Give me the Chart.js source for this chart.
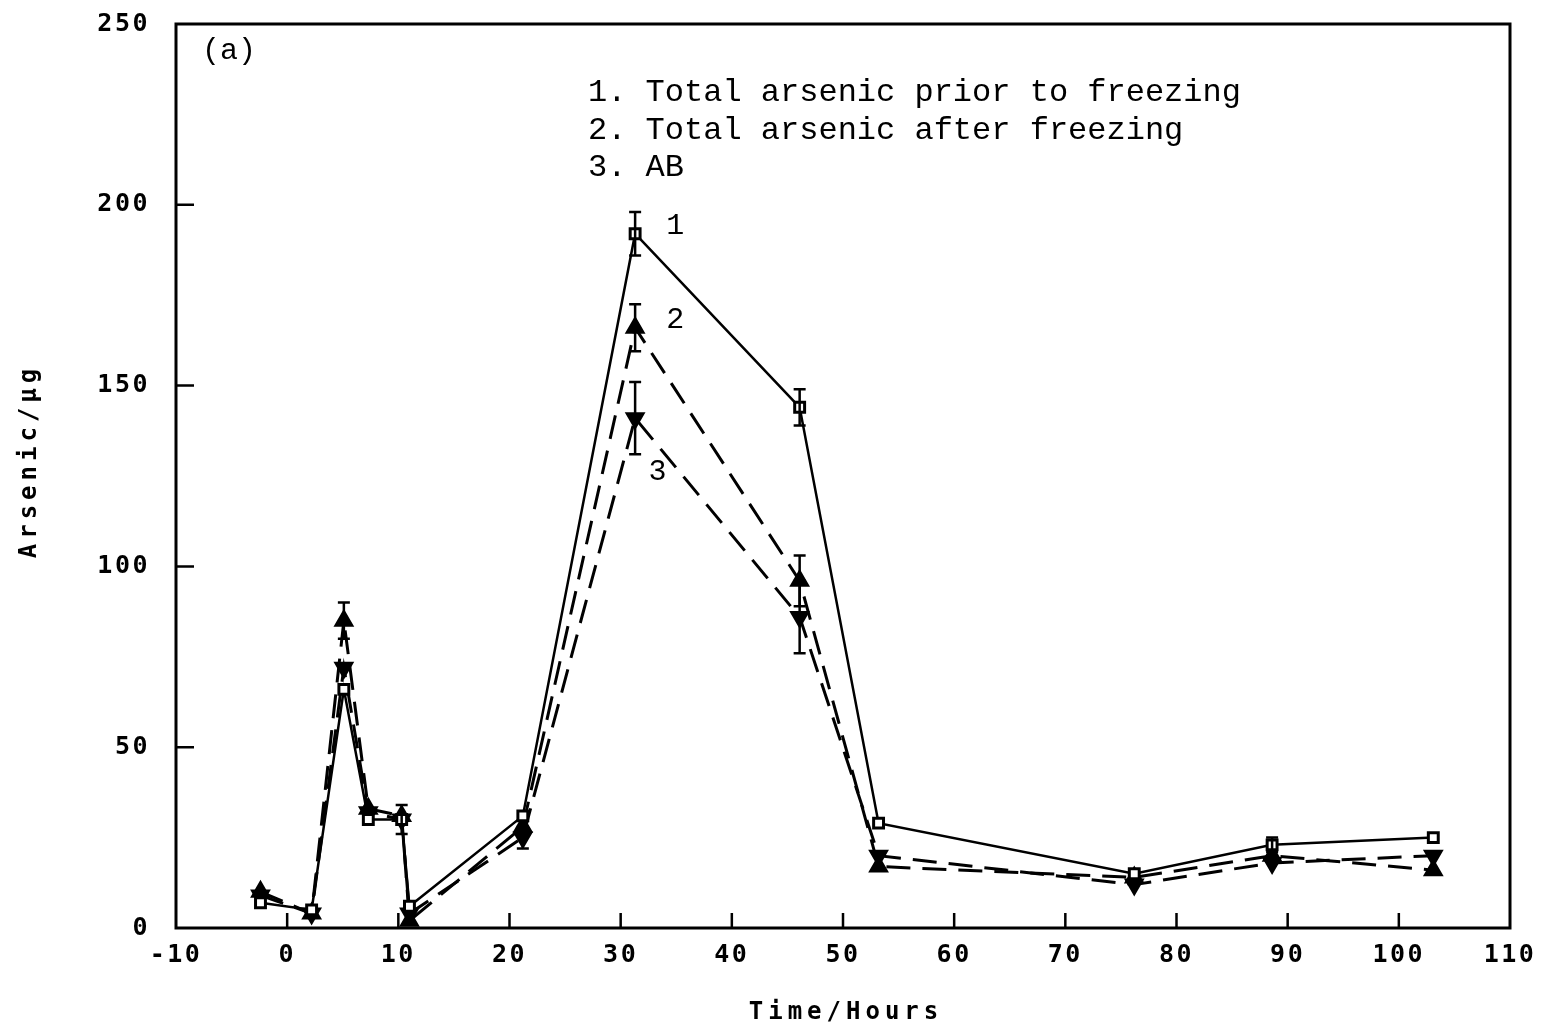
<!DOCTYPE html>
<html>
<head>
<meta charset="utf-8">
<script src="https://cdn.jsdelivr.net/npm/chart.js@4.4.0/dist/chart.umd.min.js"></script>
<style>
  html, body { margin: 0; padding: 0; background: #fff; }
  #wrap { width: 1562px; height: 1030px; }
</style>
</head>
<body>
<div id="wrap"><canvas id="arsenicChart" width="1562" height="1030"></canvas></div>
<script>
// sampling times (hours) and arsenic amounts (ug)
const timeHours = [-2.4, 2.2, 5.1, 7.3, 10.3, 11.0, 21.2, 31.3, 46.1, 53.2, 76.2, 88.6, 103.1];

const totalBefore    = [7, 5, 66, 30, 30, 6, 31, 192, 144, 29, 15, 23, 25];
const totalBeforeErr = [0, 0, 0, 0, 4, 0, 0, 6, 5, 0, 0, 2, 0];

const totalAfter    = [10, 4, 85, 33, 31, 2, 28, 166, 96, 17, 14, 20, 16];
const totalAfterErr = [0, 0, 5, 0, 0, 0, 0, 6.5, 7, 0, 0, 0, 0];

const arsenobetaine    = [9, 4, 72, 32, 30, 4, 25, 141, 86, 20, 12, 18, 20];
const arsenobetaineErr = [0, 0, 0, 0, 0, 0, 3, 10, 10, 0, 0, 0, 0];

const legendLines = ['1. Total arsenic prior to freezing', '2. Total arsenic after freezing', '3. AB'];
const curveLabels = [
    { text: '1', x: 34.1, y: 194 },
    { text: '2', x: 34.1, y: 168 },
    { text: '3', x: 32.5, y: 126 }
];
const panelLabel = '(a)';
const xTitle = 'Time/Hours';
const yTitle = 'Arsenic/\u00b5g';

function toPoints(values) {
    return values.map((v, i) => ({ x: timeHours[i], y: v }));
}

const errorSets = [totalBeforeErr, totalAfterErr, arsenobetaineErr];

// error bars, inward ticks, frame and the text on the plot
const paperPlugin = {
    id: 'paper',
    beforeDraw(chart) {
        chart.ctx.letterSpacing = '2.5px';
    },
    afterDatasetsDraw(chart) {
        const ctx = chart.ctx;
        const xs = chart.scales.x, ys = chart.scales.y;
        ctx.save();
        ctx.strokeStyle = '#000';
        ctx.lineWidth = 2.5;
        chart.data.datasets.forEach((ds, d) => {
            ds.data.forEach((p, i) => {
                const e = errorSets[d][i];
                if (!e) return;
                const px = xs.getPixelForValue(p.x);
                const top = ys.getPixelForValue(p.y + e);
                const bot = ys.getPixelForValue(p.y - e);
                ctx.beginPath();
                ctx.moveTo(px, top); ctx.lineTo(px, bot);
                ctx.moveTo(px - 6, top); ctx.lineTo(px + 6, top);
                ctx.moveTo(px - 6, bot); ctx.lineTo(px + 6, bot);
                ctx.stroke();
            });
        });
        ctx.restore();
    },
    afterDraw(chart) {
        const ctx = chart.ctx;
        const a = chart.chartArea;
        const xs = chart.scales.x, ys = chart.scales.y;
        ctx.save();
        ctx.letterSpacing = '0px';
        ctx.strokeStyle = '#000';

        // frame
        ctx.lineWidth = 3;
        ctx.strokeRect(a.left, a.top, a.right - a.left, a.bottom - a.top);

        // inward ticks
        ctx.lineWidth = 2.5;
        ctx.beginPath();
        xs.ticks.forEach(t => {
            const px = xs.getPixelForValue(t.value);
            if (px <= a.left + 2 || px >= a.right - 2) return;
            ctx.moveTo(px, a.bottom); ctx.lineTo(px, a.bottom - 15);
        });
        ys.ticks.forEach(t => {
            const py = ys.getPixelForValue(t.value);
            if (py <= a.top + 2 || py >= a.bottom - 2) return;
            ctx.moveTo(a.left, py); ctx.lineTo(a.left + 18, py);
        });
        ctx.stroke();

        // plot texts
        ctx.fillStyle = '#000';
        ctx.textBaseline = 'middle';
        ctx.textAlign = 'left';
        ctx.font = '30px "Liberation Mono"';
        ctx.fillText(panelLabel, a.left + 26, a.top + 27);

        ctx.font = '32px "Liberation Mono"';
        legendLines.forEach((line, i) => {
            ctx.fillText(line, a.left + 412, a.top + 69 + i * 37.5);
        });

        ctx.font = '30px "Liberation Mono"';
        curveLabels.forEach(l => {
            ctx.fillText(l.text, xs.getPixelForValue(l.x), ys.getPixelForValue(l.y));
        });

        // axis titles
        ctx.font = 'bold 24px "DejaVu Sans Mono"';
        ctx.letterSpacing = '5px';
        ctx.textAlign = 'center';
        ctx.fillText(xTitle, (a.left + a.right) / 2 + 3, 1013);
        ctx.translate(30, (a.top + a.bottom) / 2 - 15);
        ctx.rotate(-Math.PI / 2);
        ctx.fillText(yTitle, 0, 0);
        ctx.restore();
    }
};

new Chart(document.getElementById('arsenicChart').getContext('2d'), {
    type: 'line',
    data: {
        datasets: [
            {
                label: 'Total arsenic prior to freezing',
                data: toPoints(totalBefore),
                borderColor: '#000',
                borderWidth: 2.5,
                pointStyle: 'rect',
                pointRadius: 7,
                pointBorderWidth: 3,
                pointBackgroundColor: '#fff',
                pointBorderColor: '#000',
                tension: 0
            },
            {
                label: 'Total arsenic after freezing',
                data: toPoints(totalAfter),
                borderColor: '#000',
                borderWidth: 3,
                borderDash: [24, 12],
                pointStyle: 'triangle',
                pointRadius: 9,
                pointBackgroundColor: '#000',
                pointBorderColor: '#000',
                tension: 0
            },
            {
                label: 'AB',
                data: toPoints(arsenobetaine),
                borderColor: '#000',
                borderWidth: 3,
                borderDash: [24, 12],
                pointStyle: 'triangle',
                pointRotation: 180,
                pointRadius: 9,
                pointBackgroundColor: '#000',
                pointBorderColor: '#000',
                tension: 0
            }
        ]
    },
    options: {
        responsive: false,
        animation: false,
        layout: { padding: { top: 24, right: 52, left: 0, bottom: 0 } },
        plugins: { legend: { display: false }, tooltip: { enabled: false } },
        scales: {
            x: {
                type: 'linear',
                min: -10,
                max: 110,
                ticks: {
                    stepSize: 10,
                    color: '#000',
                    padding: 12,
                    font: { family: 'DejaVu Sans Mono', weight: 'bold', size: 25 }
                },
                grid: { display: false, drawTicks: false },
                border: { display: false },
                afterFit(scale) { scale.height = 102; }
            },
            y: {
                min: 0,
                max: 250,
                ticks: {
                    stepSize: 50,
                    color: '#000',
                    padding: 26,
                    font: { family: 'DejaVu Sans Mono', weight: 'bold', size: 25 }
                },
                grid: { display: false, drawTicks: false },
                border: { display: false },
                afterFit(scale) {
                    scale.width = 176;
                    scale.paddingTop = 0;
                    scale.paddingBottom = 0;
                }
            }
        }
    },
    plugins: [paperPlugin]
});
</script>
</body>
</html>
